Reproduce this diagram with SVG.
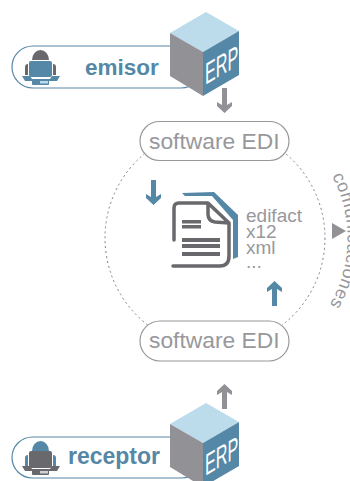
<svg xmlns="http://www.w3.org/2000/svg" width="350" height="481" viewBox="0 0 350 481">
<style>
.g{font-family:"Liberation Sans",Arial,sans-serif;fill:#98989c}
.b{font-family:"Liberation Sans",Arial,sans-serif;font-weight:bold;fill:#5587a6}
.pill{fill:#fff;stroke:#5587a6;stroke-width:1.2}
.edi{fill:#fff;stroke:#98989c;stroke-width:1.2}
.top{fill:#bcdcec}.lf{fill:#929296}.rt{fill:#5587a6}
.erp{font-family:"Liberation Sans",Arial,sans-serif;fill:#fff;font-size:30px}
.blue{fill:#5587a6}.dark{fill:#68686d}
</style>
<defs>
<path id="arc" d="M332 176A133 133 0 0 1 317 323"/>
<g id="cube">
<path class="top" d="M206 12L239 31L203 52L170 33Z"/>
<path class="lf" d="M170 33L203 52L203 96L170 76Z"/>
<path class="rt" d="M239 31L203 52L203 96L239 75Z"/>
<text class="erp" transform="matrix(.54 -.32 0 1 205 85)">ERP</text>
</g>
</defs>
<g id="connectors">
<circle cx="215" cy="238" r="110" fill="none" stroke="#808085" stroke-width="1" stroke-dasharray="2 3"/>
<path fill="#929296" d="M222 88h5v17l5-3v4l-7.500 7l-7.500-7v-4l5 3z"/>
<path fill="#929296" d="M222 409h5v-17l5 3v-4l-7.500-7l-7.500 7v4l5-3z"/>
<path class="blue" d="M151 180h5v17l5-3v4l-7.500 7l-7.500-7v-4l5 3z"/>
<path class="blue" d="M272 306h5v-17l5 3v-4l-7.500-7l-7.500 7v4l5-3z"/>
<path fill="#929296" d="M332 223L346 231L332 239Z"/>
</g>
<g id="comunicaciones"><text class="g" font-size="18" letter-spacing=".4"><textPath href="#arc">comunicaciones</textPath></text></g>
<g id="emisor">
<rect class="pill" x="12" y="46" width="190" height="42" rx="21"/>
<path class="dark" d="M32 60a8.500 10 0 0 1 17 0z"/>
<path class="dark" d="M25 75v-8a3 3 0 0 1 3-3v11zM56 75v-8a3 3 0 0 0-3-3v11z"/>
<rect class="blue" x="29" y="61" width="23" height="16" rx="2"/>
<path class="blue" d="M22 76h8l2 3h18l2-3h8l-3 5h-32z"/>
<rect class="blue" x="32" y="80" width="17" height="5" rx="1"/>
<rect x="40" y="81" width="8" height="2.500" fill="#bcdcec"/>
<text class="b" x="85" y="75" font-size="22.500">emisor</text>
</g>
<g id="erp-emisor"><use href="#cube"/></g>
<g id="edi-top">
<rect class="edi" x="140" y="121.500" width="149" height="39" rx="19.500"/>
<text class="g" x="149" y="149" font-size="22.800">software EDI</text>
</g>
<g id="edi-bottom">
<rect class="edi" x="140" y="321" width="149" height="40" rx="20"/>
<text class="g" x="149" y="348" font-size="22.800">software EDI</text>
</g>
<g id="documento">
<path class="blue" d="M182 193L214 192L238 215V257L233 259V220L212 196H185Z"/>
<path fill="none" stroke="#68686d" stroke-width="3.500" stroke-linecap="round" stroke-linejoin="round" d="M174 240V208Q174 203 179 203H208L229 223V256Q229 266 220 266H173M208 204V214Q208 221 215 222L229 223"/>
<path class="dark" d="M182 220h19v3.500h-19zM182 225h19v3.500h-19zM182 238h38v4h-38zM182 244h38v4h-38zM182 252h38v4h-38z"/>
</g>
<g id="formatos" class="g" font-size="19">
<text x="246" y="222">edifact</text>
<text x="246" y="238">x12</text>
<text x="246" y="254">xml</text>
<text x="246" y="268">...</text>
</g>
<g id="receptor">
<rect class="pill" x="12" y="437" width="190" height="41" rx="20.500"/>
<path class="blue" d="M32 451a8.500 10 0 0 1 17 0z"/>
<path class="blue" d="M25 466v-8a3 3 0 0 1 3-3v11zM56 466v-8a3 3 0 0 0-3-3v11z"/>
<rect class="dark" x="29" y="451" width="23" height="17" rx="2"/>
<path class="dark" d="M22 466h8l2 3h18l2-3h8l-3 5h-32z"/>
<rect class="dark" x="32" y="470" width="17" height="5" rx="1"/>
<rect x="40" y="471" width="8" height="2.500" fill="#d0d0d0"/>
<text class="b" x="68" y="464" font-size="23">receptor</text>
</g>
<g id="erp-receptor"><use href="#cube" y="391"/></g>
</svg>
